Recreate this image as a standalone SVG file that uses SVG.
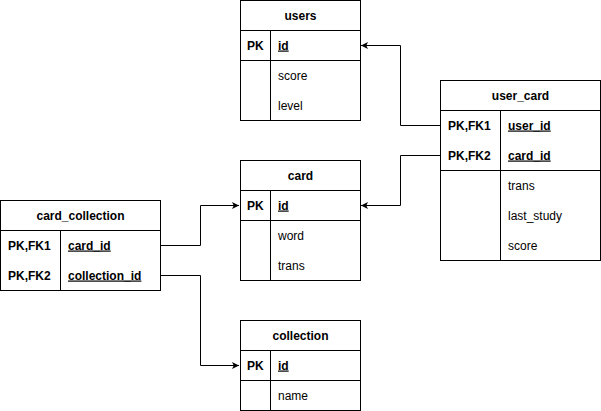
<svg xmlns="http://www.w3.org/2000/svg" width="601" height="411" viewBox="0 0 601 411">
<style>
.box{fill:#fff;stroke:#000;stroke-width:1}
.ln{stroke:#000;stroke-width:1;fill:none}
text{font-family:"Liberation Sans",Arial,sans-serif;font-size:12px;fill:#000}
.t{font-weight:bold;text-anchor:middle}
.k{font-weight:bold}
.u{text-decoration:underline}
.c{fill:none;stroke:#000;stroke-width:1}
</style>
<defs>
<marker id="arr" markerWidth="10" markerHeight="10" refX="7" refY="3.5" orient="auto" markerUnits="userSpaceOnUse">
<path d="M0,0 L7,3.5 L0,7 L1.75,3.5 Z" fill="#000"/>
</marker>
</defs>
<rect width="601" height="411" fill="#fff"/>
<g id="connectors">
<path class="c" d="M440,125.5 H400.5 V45.5 H361" marker-end="url(#arr)"/>
<path class="c" d="M440,155.5 H400.5 V205.5 H361" marker-end="url(#arr)"/>
<path class="c" d="M160,245.5 H200.5 V205.5 H239" marker-end="url(#arr)"/>
<path class="c" d="M160,275.5 H200.5 V365.5 H239" marker-end="url(#arr)"/>
</g>
<g id="users">
<rect class="box" x="240.5" y="0.5" width="120" height="120"/>
<path class="ln" d="M240.5,30.5 H360.5 M240.5,60.5 H360.5 M270.5,30.5 V120.5"/>
<text class="t" x="300.5" y="19.5">users</text>
<text class="k" x="247" y="49.5">PK</text>
<text class="k u" x="278" y="49.5">id</text>
<text x="278" y="79.5">score</text>
<text x="278" y="109.5">level</text>
</g>
<g id="user_card">
<rect class="box" x="440.5" y="80.5" width="160" height="180"/>
<path class="ln" d="M440.5,110.5 H600.5 M440.5,170.5 H600.5 M500.5,110.5 V260.5"/>
<text class="t" x="520.5" y="99.5">user_card</text>
<text class="k" x="448" y="129.5">PK,FK1</text>
<text class="k u" x="508" y="129.5">user_id</text>
<text class="k" x="448" y="159.5">PK,FK2</text>
<text class="k u" x="508" y="159.5">card_id</text>
<text x="508" y="189.5">trans</text>
<text x="508" y="219.5">last_study</text>
<text x="508" y="249.5">score</text>
</g>
<g id="card">
<rect class="box" x="240.5" y="160.5" width="120" height="120"/>
<path class="ln" d="M240.5,190.5 H360.5 M240.5,220.5 H360.5 M270.5,190.5 V280.5"/>
<text class="t" x="300.5" y="179.5">card</text>
<text class="k" x="247" y="209.5">PK</text>
<text class="k u" x="278" y="209.5">id</text>
<text x="278" y="239.5">word</text>
<text x="278" y="269.5">trans</text>
</g>
<g id="card_collection">
<rect class="box" x="0.5" y="200.5" width="160" height="90"/>
<path class="ln" d="M0.5,230.5 H160.5 M60.5,230.5 V290.5"/>
<text class="t" x="80.5" y="219.5">card_collection</text>
<text class="k" x="8" y="249.5">PK,FK1</text>
<text class="k u" x="68" y="249.5">card_id</text>
<text class="k" x="8" y="279.5">PK,FK2</text>
<text class="k u" x="68" y="279.5">collection_id</text>
</g>
<g id="collection">
<rect class="box" x="240.5" y="320.5" width="120" height="90"/>
<path class="ln" d="M240.5,350.5 H360.5 M240.5,380.5 H360.5 M270.5,350.5 V410.5"/>
<text class="t" x="300.5" y="339.5">collection</text>
<text class="k" x="247" y="369.5">PK</text>
<text class="k u" x="278" y="369.5">id</text>
<text x="278" y="399.5">name</text>
</g>
</svg>
